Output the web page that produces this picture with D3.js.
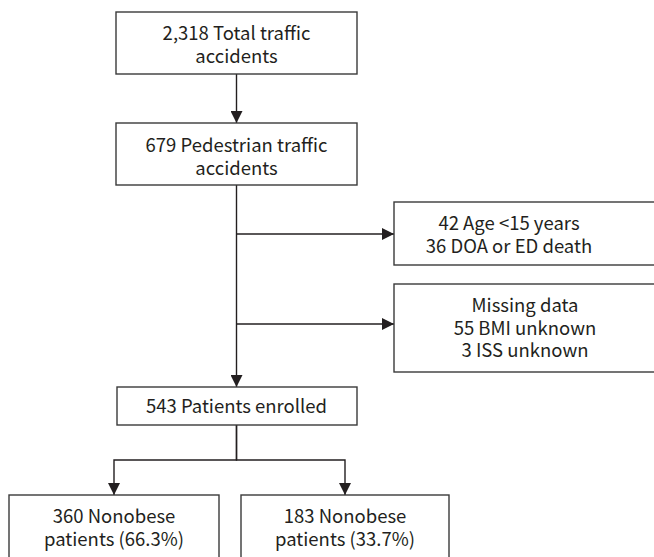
<!DOCTYPE html>
<html>
<head>
<meta charset="utf-8">
<script src="https://cdn.jsdelivr.net/npm/d3@7"></script>
<style>
  body { margin: 0; background: #fff; }
  svg text { font-family: "Noto Sans CJK KR", "Noto Sans", sans-serif; font-size: 18.5px; fill: #231f20; }
</style>
</head>
<body>
<div id="chart"></div>
<script>
// flowchart content
var boxIds = ["total", "pedestrian", "excluded", "missing", "enrolled", "group1", "group2"];
var boxLines = [
    ["2,318 Total traffic", "accidents"],
    ["679 Pedestrian traffic", "accidents"],
    ["42 Age <15 years", "36 DOA or ED death"],
    ["Missing data", "55 BMI unknown", "3 ISS unknown"],
    ["543 Patients enrolled"],
    ["360 Nonobese", "patients (66.3%)"],
    ["183 Nonobese", "patients (33.7%)"]
];
// arrows: from -> to
var linkFrom = ["total", "pedestrian", "pedestrian", "pedestrian", "enrolled", "enrolled"];
var linkTo   = ["pedestrian", "excluded", "missing", "enrolled", "group1", "group2"];

// layout (pixels)
var width = 654, height = 557;
var boxPos = {
    total:      {x: 116, y: 12,  w: 241, h: 62,  tx: 236.5, ty: 40},
    pedestrian: {x: 116, y: 123, w: 241, h: 62,  tx: 236.5, ty: 152},
    excluded:   {x: 394, y: 202, w: 264, h: 63,  tx: 509,   ty: 230},
    missing:    {x: 394, y: 284, w: 264, h: 88,  tx: 525,   ty: 312},
    enrolled:   {x: 117, y: 387, w: 240, h: 38,  tx: 236.5, ty: 413},
    group1:     {x: 9,   y: 495, w: 210, h: 80,  tx: 114,   ty: 523},
    group2:     {x: 241, y: 495, w: 208, h: 80,  tx: 345,   ty: 523}
};
var lineHeight = 22.5;
var trunkX = 236.5, splitY = 460;

var svg = d3.select("#chart").append("svg")
    .attr("width", width).attr("height", height);

svg.append("defs").append("marker")
    .attr("id", "arrow")
    .attr("viewBox", "0 0 12 12")
    .attr("refX", 12).attr("refY", 6)
    .attr("markerWidth", 12).attr("markerHeight", 12)
    .attr("markerUnits", "userSpaceOnUse")
    .attr("orient", "auto")
    .append("path")
    .attr("d", "M0,0 L12,6 L0,12 Z")
    .attr("fill", "#231f20");

// connector path for each link
function linkPoints(f, t) {
    var a = boxPos[f], b = boxPos[t];
    if (f === "pedestrian" && t !== "enrolled") {
        var y = b.y + (t === "excluded" ? 32 : 40);
        return [[trunkX, y], [b.x, y]];
    }
    if (f === "enrolled") {
        var cx = b.tx;
        return [[trunkX, a.y + a.h], [trunkX, splitY], [cx, splitY], [cx, b.y]];
    }
    return [[trunkX, a.y + a.h], [trunkX, b.y]];
}

var line = d3.line();

svg.append("g").selectAll("path")
    .data(linkFrom.map(function (f, i) { return linkPoints(f, linkTo[i]); }))
    .join("path")
    .attr("d", line)
    .attr("fill", "none")
    .attr("stroke", "#231f20")
    .attr("stroke-width", 1.4)
    .attr("marker-end", "url(#arrow)");

var boxes = svg.append("g").selectAll("g")
    .data(boxIds)
    .join("g");

boxes.append("rect")
    .attr("x", function (d) { return boxPos[d].x; })
    .attr("y", function (d) { return boxPos[d].y; })
    .attr("width", function (d) { return boxPos[d].w; })
    .attr("height", function (d) { return boxPos[d].h; })
    .attr("fill", "#fff")
    .attr("stroke", "#3a3a3a")
    .attr("stroke-width", 1.4);

// one text per box, lines as tspans
boxes.append("text")
    .attr("text-anchor", "middle")
    .each(function (d, i) {
        var p = boxPos[d];
        d3.select(this).selectAll("tspan")
            .data(boxLines[i])
            .join("tspan")
            .attr("x", p.tx)
            .attr("y", function (s, j) { return p.ty + j * lineHeight; })
            .text(function (s) { return s; });
    });
</script>
</body>
</html>
